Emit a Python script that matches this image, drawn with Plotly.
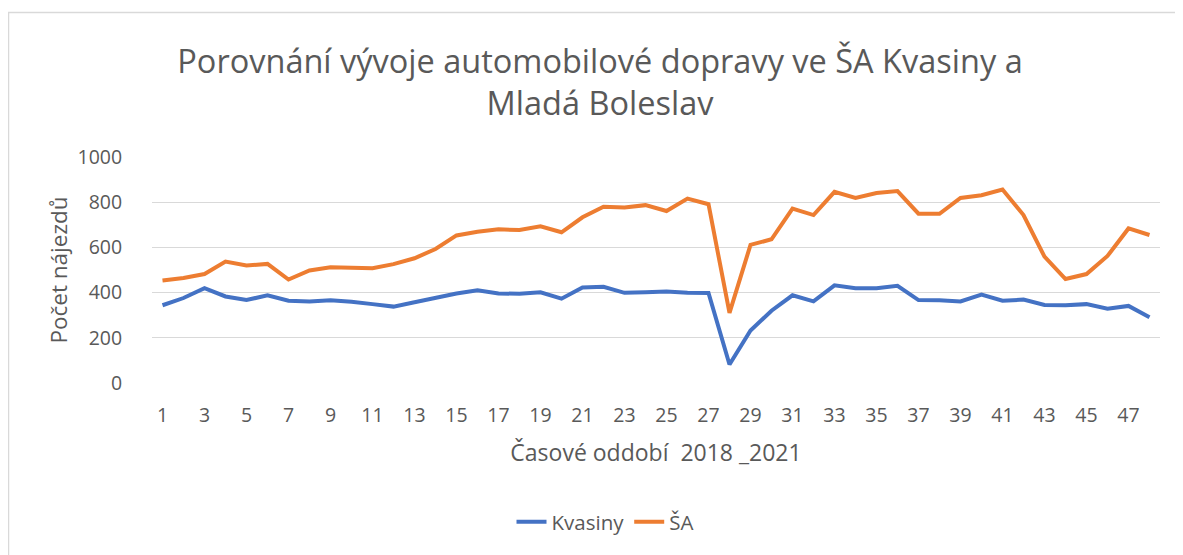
import plotly.graph_objects as go

periods = list(range(1, 49))
kvasiny = [344, 376, 420, 383, 367, 388, 364, 361, 366, 360, 349, 338, 357, 377, 396, 410,
           396, 395, 401, 373, 423, 426, 399, 402, 405, 399, 398, 82, 232, 320, 388, 361,
           432, 419, 419, 430, 367, 366, 361, 391, 364, 369, 345, 344, 349, 329, 341, 291]
sa = [454, 465, 482, 537, 520, 527, 458, 498, 512, 512, 508, 526, 552, 593, 653, 669,
      680, 677, 693, 667, 733, 780, 777, 787, 761, 816, 791, 310, 611, 636, 772, 743,
      846, 819, 841, 849, 749, 749, 819, 831, 856, 743, 559, 460, 482, 562, 684, 655]
x_ticks = list(range(1, 49, 2))
y_ticks = [0, 200, 400, 600, 800, 1000]

title_text = "Porovnání vývoje automobilové dopravy ve ŠA Kvasiny a<br>Mladá Boleslav"
font = "'Open Sans', 'Noto Sans', sans-serif"
grey = "#595959"

W, H = 1175, 547
L, T, R, B = 144, 149, 23, 172
PW, PH = W - L - R, H - T - B

fig = go.Figure()
fig.add_trace(go.Scatter(x=periods, y=kvasiny, mode="lines", name="Kvasiny",
                         line=dict(color="#4472C4", width=4)))
fig.add_trace(go.Scatter(x=periods, y=sa, mode="lines", name="ŠA",
                         line=dict(color="#ED7D31", width=4)))

fig.update_layout(
    width=W, height=H,
    paper_bgcolor="white", plot_bgcolor="white",
    margin=dict(l=L, r=R, t=T, b=B, autoexpand=False),
    font=dict(family=font, color=grey, size=19),
    title=dict(text=title_text, x=592 / W, xanchor="center", y=1 - 64.5 / H, yanchor="middle",
               font=dict(size=32.5, color=grey, family=font)),
    legend=dict(orientation="h", x=(597 - L) / PW, xanchor="center", y=-0.615, yanchor="middle",
                font=dict(size=20.5, color=grey)),
    showlegend=True,
)
fig.update_xaxes(range=[0.5, 48.5], tickmode="array", tickvals=x_ticks,
                 ticktext=[str(v) for v in x_ticks], showgrid=False, zeroline=False,
                 showline=False, ticks="outside", ticklen=14.5, tickcolor="rgba(0,0,0,0)",
                 tickfont=dict(size=19.5, color=grey),
                 title=dict(text="Časové oddobí  2018 _2021", font=dict(size=23, color=grey),
                            standoff=17.5))
fig.update_yaxes(range=[0, 1000], tickmode="array", tickvals=y_ticks,
                 showgrid=True, gridcolor="#D9D9D9", gridwidth=1.3, zeroline=False,
                 showline=False, ticks="outside", ticklen=25, tickcolor="rgba(0,0,0,0)",
                 tickfont=dict(size=19.5, color=grey),
                 title=dict(text="Počet nájezdů", font=dict(size=22.5, color=grey), standoff=3))

fig.add_shape(type="rect", xref="paper", yref="paper",
              x0=(0.5 - L) / PW, x1=1.2, y0=-1.0, y1=(PH + T - 4.5) / PH,
              line=dict(color="#D9D9D9", width=1.5), fillcolor="rgba(0,0,0,0)", layer="below")

fig.write_html("out.html")
